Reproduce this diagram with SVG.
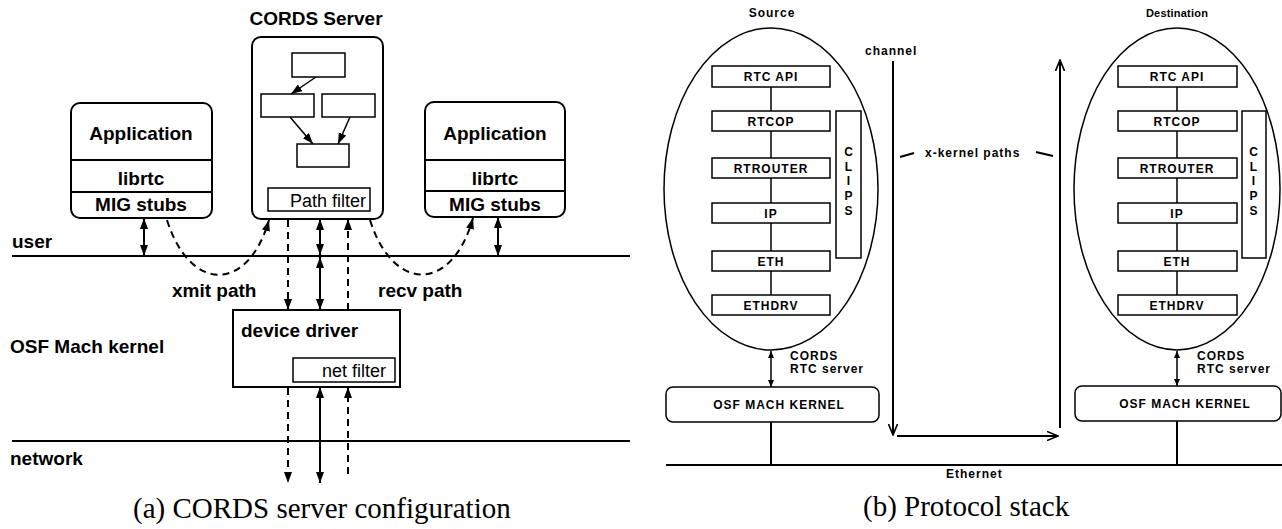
<svg xmlns="http://www.w3.org/2000/svg" width="1282" height="529" viewBox="0 0 1282 529">
<style>
.bg{fill:#fff}
.box{fill:none;stroke:#000;stroke-width:2}
.thin{fill:none;stroke:#000;stroke-width:1.5}
.ln{fill:none;stroke:#000;stroke-width:2}
.dash{fill:none;stroke:#000;stroke-width:2;stroke-dasharray:7 5}
.t{font-family:"Liberation Sans",Arial,sans-serif;font-weight:bold;font-size:19px;fill:#000}
.tr{font-family:"Liberation Sans",Arial,sans-serif;font-size:18px;fill:#000}
.s{font-family:"Liberation Sans",Arial,sans-serif;font-weight:bold;font-size:12px;letter-spacing:1px;fill:#000}
.cap{font-family:"Liberation Serif","Times New Roman",serif;font-size:29px;fill:#000}
</style>
<defs>
<marker id="af" markerUnits="userSpaceOnUse" markerWidth="11" markerHeight="8" refX="11" refY="4" orient="auto-start-reverse" viewBox="0 0 11 8"><path d="M0,0 L11,4 L0,8 z" fill="#000"/></marker>
<marker id="as" markerUnits="userSpaceOnUse" markerWidth="7" markerHeight="6" refX="7" refY="3" orient="auto-start-reverse" viewBox="0 0 7 6"><path d="M0,0 L7,3 L0,6 z" fill="#000"/></marker>
<marker id="av" markerUnits="userSpaceOnUse" markerWidth="12" markerHeight="10" refX="11" refY="5" orient="auto-start-reverse" viewBox="0 0 12 10"><path d="M0,0.5 L11,5 L0,9.5" fill="none" stroke="#000" stroke-width="1.6"/></marker>
</defs>
<rect class="bg" x="0" y="0" width="1282" height="529"/>

<!-- ===== (a) CORDS server configuration ===== -->
<g id="layers-a">
<line class="ln" x1="12" y1="256" x2="630" y2="256"/>
<line class="ln" x1="12" y1="441" x2="630" y2="441"/>
<text class="t" x="12" y="248">user</text>
<text class="t" x="10" y="353">OSF Mach kernel</text>
<text class="t" x="10" y="465">network</text>
</g>

<g id="cords-server">
<text class="t" x="316" y="25" text-anchor="middle">CORDS Server</text>
<rect class="box" x="252" y="37" width="131" height="182" rx="9"/>
<rect class="thin" x="292" y="53" width="53" height="24"/>
<rect class="thin" x="261" y="94" width="53" height="23"/>
<rect class="thin" x="322" y="94" width="53" height="23"/>
<rect class="thin" x="297" y="144" width="52" height="23"/>
<line class="thin" x1="316" y1="77" x2="291" y2="94" marker-end="url(#af)"/>
<line class="thin" x1="290" y1="117" x2="313" y2="144" marker-end="url(#af)"/>
<line class="thin" x1="350" y1="117" x2="338" y2="144" marker-end="url(#af)"/>
<rect class="thin" x="268" y="188" width="102" height="23"/>
<text class="tr" x="366" y="207" text-anchor="end">Path filter</text>
</g>

<g id="app-left">
<rect class="box" x="71" y="103" width="141" height="115" rx="9"/>
<line class="ln" x1="71" y1="160" x2="212" y2="160"/>
<line class="ln" x1="71" y1="192" x2="212" y2="192"/>
<text class="t" x="141" y="140" text-anchor="middle">Application</text>
<text class="t" x="141" y="185" text-anchor="middle">librtc</text>
<text class="t" x="141" y="211" text-anchor="middle">MIG stubs</text>
</g>

<g id="app-right">
<rect class="box" x="425" y="102" width="140" height="115" rx="9"/>
<line class="ln" x1="425" y1="160" x2="565" y2="160"/>
<line class="ln" x1="425" y1="191" x2="565" y2="191"/>
<text class="t" x="495" y="140" text-anchor="middle">Application</text>
<text class="t" x="495" y="185" text-anchor="middle">librtc</text>
<text class="t" x="495" y="211" text-anchor="middle">MIG stubs</text>
</g>

<g id="device-driver">
<rect class="box" x="233" y="310" width="167" height="77"/>
<text class="t" x="241" y="337">device driver</text>
<rect class="thin" x="293" y="358" width="102" height="24"/>
<text class="tr" x="386" y="377" text-anchor="end">net filter</text>
</g>

<g id="path-labels">
<text class="t" x="172" y="297">xmit path</text>
<text class="t" x="378" y="297">recv path</text>
</g>

<g id="connectors-a">
<line class="ln" x1="144" y1="218" x2="144" y2="256" marker-start="url(#af)" marker-end="url(#af)"/>
<line class="ln" x1="498" y1="217" x2="498" y2="256" marker-start="url(#af)" marker-end="url(#af)"/>
<path class="dash" d="M167,220 C190,293 248,293 269,220" marker-end="url(#af)"/>
<path class="dash" d="M370,220 C393,293 452,293 473,218" marker-end="url(#af)"/>
<line class="dash" x1="288" y1="220" x2="288" y2="310" marker-end="url(#af)"/>
<line class="ln" x1="320" y1="219" x2="320" y2="255" marker-start="url(#af)" marker-end="url(#af)"/>
<line class="ln" x1="320" y1="257" x2="320" y2="310" marker-start="url(#af)" marker-end="url(#af)"/>
<line class="dash" x1="348" y1="310" x2="348" y2="219" marker-end="url(#af)"/>
<line class="dash" x1="288" y1="388" x2="288" y2="483" marker-end="url(#af)"/>
<line class="ln" x1="320" y1="387" x2="320" y2="483" marker-start="url(#af)" marker-end="url(#af)"/>
<line class="dash" x1="348" y1="474" x2="348" y2="387" marker-end="url(#af)"/>
</g>

<text class="cap" x="133" y="518">(a) CORDS server configuration</text>

<!-- ===== (b) Protocol stack ===== -->
<g id="source-stack">
<text class="s" x="772" y="17" text-anchor="middle">Source</text>
<ellipse class="thin" cx="771" cy="189" rx="107" ry="161"/>
<line class="thin" x1="771" y1="87" x2="771" y2="295"/>
<rect class="thin" x="712" y="66" width="118" height="21" fill="#fff" style="fill:#fff"/>
<rect class="thin" x="712" y="111" width="118" height="20" style="fill:#fff"/>
<rect class="thin" x="712" y="158" width="118" height="20" style="fill:#fff"/>
<rect class="thin" x="712" y="203" width="118" height="20" style="fill:#fff"/>
<rect class="thin" x="712" y="251" width="118" height="20" style="fill:#fff"/>
<rect class="thin" x="712" y="295" width="118" height="20" style="fill:#fff"/>
<text class="s" x="771" y="81" text-anchor="middle">RTC API</text>
<text class="s" x="771" y="126" text-anchor="middle">RTCOP</text>
<text class="s" x="771" y="173" text-anchor="middle">RTROUTER</text>
<text class="s" x="771" y="218" text-anchor="middle">IP</text>
<text class="s" x="771" y="266" text-anchor="middle">ETH</text>
<text class="s" x="771" y="310" text-anchor="middle">ETHDRV</text>
<rect class="thin" x="836" y="111" width="25" height="147"/>
<text class="s" x="849" y="156" text-anchor="middle">C</text>
<text class="s" x="849" y="171" text-anchor="middle">L</text>
<text class="s" x="849" y="185" text-anchor="middle">I</text>
<text class="s" x="849" y="200" text-anchor="middle">P</text>
<text class="s" x="849" y="215" text-anchor="middle">S</text>
</g>

<g id="source-kernel">
<rect class="thin" x="666" y="387" width="213" height="35" rx="7"/>
<text class="s" x="779" y="409" text-anchor="middle">OSF MACH KERNEL</text>
<text class="s" x="790" y="360">CORDS</text>
<text class="s" x="790" y="373">RTC server</text>
</g>

<g id="dest-stack">
<text class="s" x="1177" y="17" text-anchor="middle" style="letter-spacing:0.2px;font-size:11px">Destination</text>
<ellipse class="thin" cx="1177" cy="189" rx="103" ry="161"/>
<line class="thin" x1="1177" y1="87" x2="1177" y2="295"/>
<rect class="thin" x="1118" y="66" width="119" height="21" style="fill:#fff"/>
<rect class="thin" x="1118" y="111" width="119" height="20" style="fill:#fff"/>
<rect class="thin" x="1118" y="158" width="119" height="20" style="fill:#fff"/>
<rect class="thin" x="1118" y="203" width="119" height="20" style="fill:#fff"/>
<rect class="thin" x="1118" y="251" width="119" height="20" style="fill:#fff"/>
<rect class="thin" x="1118" y="295" width="119" height="20" style="fill:#fff"/>
<text class="s" x="1177" y="81" text-anchor="middle">RTC API</text>
<text class="s" x="1177" y="126" text-anchor="middle">RTCOP</text>
<text class="s" x="1177" y="173" text-anchor="middle">RTROUTER</text>
<text class="s" x="1177" y="218" text-anchor="middle">IP</text>
<text class="s" x="1177" y="266" text-anchor="middle">ETH</text>
<text class="s" x="1177" y="310" text-anchor="middle">ETHDRV</text>
<rect class="thin" x="1242" y="111" width="24" height="147"/>
<text class="s" x="1254" y="156" text-anchor="middle">C</text>
<text class="s" x="1254" y="171" text-anchor="middle">L</text>
<text class="s" x="1254" y="185" text-anchor="middle">I</text>
<text class="s" x="1254" y="200" text-anchor="middle">P</text>
<text class="s" x="1254" y="215" text-anchor="middle">S</text>
</g>

<g id="dest-kernel">
<rect class="thin" x="1075" y="386" width="206" height="35" rx="7"/>
<text class="s" x="1185" y="408" text-anchor="middle">OSF MACH KERNEL</text>
<text class="s" x="1197" y="360">CORDS</text>
<text class="s" x="1197" y="373">RTC server</text>
</g>

<g id="network-b">
<line class="ln" x1="666" y1="465" x2="1282" y2="465"/>
<text class="s" x="946" y="478">Ethernet</text>
<text class="s" x="865" y="55">channel</text>
<text class="s" x="925" y="157">x-kernel paths</text>
</g>

<g id="connectors-b">
<line class="thin" x1="771" y1="351" x2="771" y2="387" marker-start="url(#as)" marker-end="url(#as)"/>
<line class="thin" x1="1177" y1="351" x2="1177" y2="386" marker-start="url(#as)" marker-end="url(#as)"/>
<line class="ln" x1="771" y1="422" x2="771" y2="465"/>
<line class="ln" x1="1177" y1="421" x2="1177" y2="465"/>
<line class="ln" x1="893" y1="61" x2="893" y2="435" marker-end="url(#av)"/>
<line class="ln" x1="897" y1="436" x2="1058" y2="436" marker-end="url(#av)"/>
<line class="ln" x1="1060" y1="428" x2="1060" y2="60" marker-end="url(#av)"/>
<line class="ln" x1="900" y1="157" x2="914" y2="153"/>
<line class="ln" x1="1036" y1="152" x2="1053" y2="156"/>
</g>

<text class="cap" x="863" y="516">(b) Protocol stack</text>
</svg>
